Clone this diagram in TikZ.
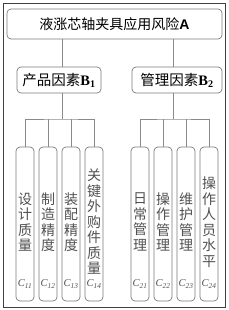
\documentclass[tikz,border=0pt]{standalone}
\usepackage{fontspec}
\setmainfont{Liberation Serif}
\newfontfamily\cjk{Noto Sans CJK SC}
\newfontfamily\lsans{Liberation Sans}
\definecolor{linegray}{HTML}{8A8A8A}
\definecolor{boxgray}{HTML}{7A7A7A}
\definecolor{txtgray}{HTML}{505050}
\newcommand{\clab}[1]{\textit{C}\textsubscript{\textit{#1}}}
\begin{document}
\begin{tikzpicture}[x=1pt,y=-1pt,
  rbox/.style={draw=boxgray, line width=0.7pt, rounded corners=4pt, inner sep=0pt},
  cbox/.style={rbox, minimum width=18pt, minimum height=154pt},
  vtext/.style={align=center, font=\cjk\fontsize{14}{15.5}\selectfont, text=txtgray, inner sep=0pt},
  clabel/.style={font=\fontsize{10.5}{11}\selectfont, text=txtgray, inner sep=0pt},
  conn/.style={draw=linegray, line width=0.7pt}]
\useasboundingbox (0,0) rectangle (229,310);
\draw[line width=0.8pt, black!75] (3,3) rectangle (225,307);
% top
\node[rbox, minimum width=215pt, minimum height=30pt, font=\fontsize{14}{16}\selectfont] (A) at (114.5,24) {{\cjk 液涨芯轴夹具应用风险}{\lsans\bfseries A}};
\node[rbox, minimum width=84pt, minimum height=26pt, font=\fontsize{14.5}{16}\selectfont] (B1) at (59,80) {{\cjk 产品因素}\textbf{B\textsubscript{1}}};
\node[rbox, minimum width=90pt, minimum height=26pt, font=\fontsize{14.5}{16}\selectfont] (B2) at (177,80) {{\cjk 管理因素}\textbf{B\textsubscript{2}}};
% C boxes
\foreach \n/\x in {C11/25,C12/48,C13/71,C14/94,C21/140,C22/163,C23/186,C24/209}
  \node[cbox] (\n) at (\x,224) {};
\node[vtext] (t11) at (25,222) {设\\计\\质\\量};
\node[vtext] (t12) at (48,222) {制\\造\\精\\度};
\node[vtext] (t13) at (71,222) {装\\配\\精\\度};
\node[vtext] (t14) at (94,222) {关\\键\\外\\购\\件\\质\\量};
\node[vtext] (t21) at (140,222) {日\\常\\管\\理};
\node[vtext] (t22) at (163,222) {操\\作\\管\\理};
\node[vtext] (t23) at (186,222) {维\\护\\管\\理};
\node[vtext] (t24) at (209,222) {操\\作\\人\\员\\水\\平};
\node[clabel] (l11) at (25,284) {\clab{11}};
\node[clabel] (l12) at (48,284) {\clab{12}};
\node[clabel] (l13) at (71,284) {\clab{13}};
\node[clabel] (l14) at (94,284) {\clab{14}};
\node[clabel] (l21) at (140,284) {\clab{21}};
\node[clabel] (l22) at (163,284) {\clab{22}};
\node[clabel] (l23) at (186,284) {\clab{23}};
\node[clabel] (l24) at (209,284) {\clab{24}};
% connectors
\coordinate (j1) at (62,119);
\coordinate (j2) at (173,119);
\draw[conn] (A.south -| j1) -- (B1.north -| j1);
\draw[conn] (A.south -| j2) -- (B2.north -| j2);
\draw[conn] (B1.south -| j1) -- (j1);
\draw[conn] (B2.south -| j2) -- (j2);
\draw[conn] (C11.north) |- (j1) -| (C14.north);
\draw[conn] (C12.north) -- (C12.north |- j1);
\draw[conn] (C13.north) -- (C13.north |- j1);
\draw[conn] (C21.north) |- (j2) -| (C24.north);
\draw[conn] (C22.north) -- (C22.north |- j2);
\draw[conn] (C23.north) -- (C23.north |- j2);
\end{tikzpicture}
\end{document}
